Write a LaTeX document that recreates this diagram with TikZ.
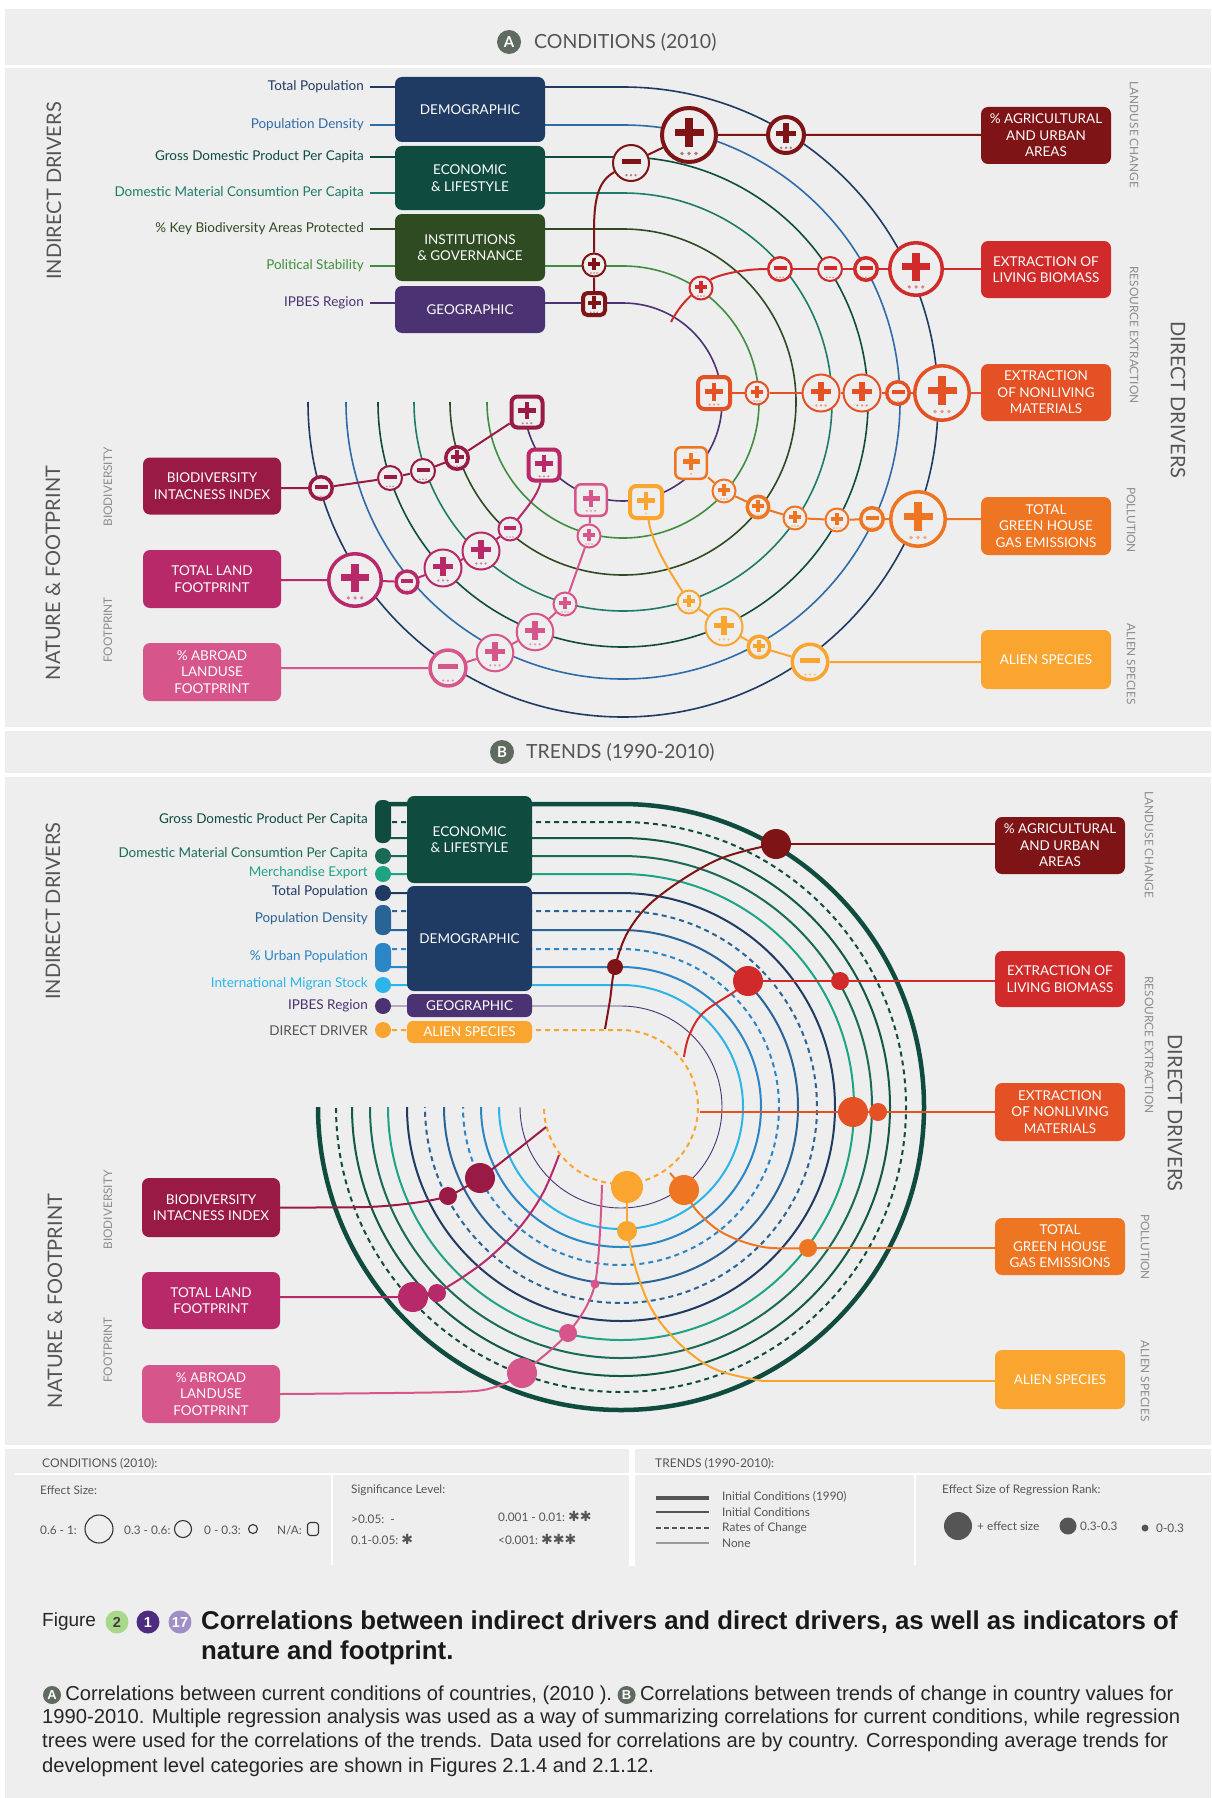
\documentclass[tikz,border=0pt]{standalone}
\usepackage{fontspec}
\setmainfont{Lato}
\newfontfamily\capfont{Liberation Sans}
\newfontfamily\dejavu{DejaVu Sans}
\usetikzlibrary{calc}
\pgfdeclarelayer{bg}
\pgfdeclarelayer{mid}
\pgfsetlayers{bg,mid,main}
\definecolor{panelbg}{HTML}{EEEEEE}
\definecolor{gtext}{HTML}{555555}
\definecolor{ltext}{HTML}{8C8C8C}
\definecolor{navy}{HTML}{1F3A63}
\definecolor{blueA}{HTML}{2E6BA8}
\definecolor{dkteal}{HTML}{0F4C3F}
\definecolor{tealA}{HTML}{1E7B67}
\definecolor{kbaC}{HTML}{2F4A22}
\definecolor{instC}{HTML}{2E4B21}
\definecolor{psC}{HTML}{3E8E3E}
\definecolor{purp}{HTML}{4B3272}
\definecolor{agric}{HTML}{7F1416}
\definecolor{biom}{HTML}{D12A2A}
\definecolor{nonl}{HTML}{E35125}
\definecolor{ghg}{HTML}{EE7522}
\definecolor{alien}{HTML}{F9A530}
\definecolor{bii}{HTML}{991A44}
\definecolor{land}{HTML}{B72968}
\definecolor{abroad}{HTML}{D6558A}
\definecolor{dkteal2}{HTML}{125848}
\definecolor{tealB}{HTML}{1B6A58}
\definecolor{merch}{HTML}{1FA385}
\definecolor{pdB}{HTML}{2A6396}
\definecolor{urban}{HTML}{2C85C5}
\definecolor{sky}{HTML}{2BB5E8}
\definecolor{badgeG}{HTML}{5E6B5E}
\definecolor{figG}{HTML}{A8D88A}
\definecolor{figP}{HTML}{4B2C7F}
\definecolor{figL}{HTML}{9E8FC6}

% #1 name, #2 x, #3 y, #4 r, #5 color, #6 p/m, #7 lw, #8 c/s, #9 ndots
\newcommand{\sgn}[9]{%
\if#8c
 \node[circle,draw=#5,fill=panelbg,line width=#7,minimum size={2*#4-#7},inner sep=0pt] (#1) at (#2,#3) {};
\else
 \node[rectangle,rounded corners={0.35*#4},draw=#5,fill=panelbg,line width=#7,minimum size={2*#4-#7},inner sep=0pt] (#1) at (#2,#3) {};
\fi
\fill[#5] ($(#1)+(-0.5*#4,-0.21*#4)$) rectangle ($(#1)+(0.5*#4,0.05*#4)$);
\if#6p \fill[#5] ($(#1)+(-0.13*#4,-0.58*#4)$) rectangle ($(#1)+(0.13*#4,0.42*#4)$);\fi
\ifnum#9=3
 \foreach \dx in {-0.24,0,0.24} {\fill[#5!55!panelbg] ($(#1)+(\dx*#4,0.64*#4)$) circle[radius={max(0.065*#4,0.8)}];}
\else
 \fill[#5!55!panelbg] ($(#1)+(0,0.64*#4)$) circle[radius={max(0.065*#4,0.8)}];
\fi
}

\begin{document}
\begin{tikzpicture}[x=1pt,y=-1pt,
  ibox/.style={rounded corners=7, text=white, align=center, inner sep=0pt, font=\fontsize{13.5}{16.5}\selectfont},
  lab/.style={anchor=east, inner sep=0pt, font=\fontsize{13.5}{16}\selectfont},
  side/.style={font=\fontsize{20}{24}\selectfont, text=gtext, inner sep=0pt},
  sub/.style={font=\fontsize{11.8}{13}\selectfont, text=ltext, inner sep=0pt},
  arcA/.style={line width=1.6pt},
  chainA/.style={line width=2pt},
  chainB/.style={line width=2pt},
  bsol/.style={line width=2pt},
  bthick/.style={line width=4.5pt},
  bdash/.style={line width=2pt, dash pattern=on 5pt off 4pt},
  bdot/.style={circle, inner sep=0pt},
  pillmk/.style={rounded corners=7, minimum width=16, inner sep=0pt},
  mkc/.style={circle, minimum size=16, inner sep=0pt},
  leg/.style={font=\fontsize{11.8}{13}\selectfont, text=gtext, anchor=west, inner sep=0pt},
  body/.style={font=\capfont\fontsize{20.2}{24}\selectfont, text=black!85, anchor=west, inner sep=0pt, text height=14, text depth=4},
  badge/.style={circle, fill=badgeG, minimum size=18, inner sep=0pt, text=white, font=\capfont\bfseries\fontsize{13}{13}\selectfont},
  fbadge/.style={circle, minimum size=23, inner sep=0pt, font=\capfont\bfseries\fontsize{14.5}{14.5}\selectfont},
]
\useasboundingbox (0,0) rectangle (1211,1798);

% ---------- panels ----------
\begin{pgfonlayer}{bg}
\fill[white] (0,0) rectangle (1211,1798);
\fill[panelbg] (5,9) rectangle (1211,65);
\fill[panelbg] (5,68) rectangle (1211,727);
\fill[panelbg] (5,731) rectangle (1211,773);
\fill[panelbg] (5,777) rectangle (1211,1445);
\fill[panelbg] (5,1449) rectangle (1211,1798);
\fill[white] (15,1473) rectangle (629,1475);
\fill[white] (635,1473) rectangle (1211,1475);
\fill[white] (629,1449) rectangle (635,1566);
\draw[white, line width=1.5pt] (332,1475) -- (332,1565);
\draw[white, line width=1.5pt] (915,1475) -- (915,1565);
\end{pgfonlayer}

% ---------- headers ----------
\node[circle, fill=badgeG, minimum size=24, inner sep=0pt, text=white, font=\bfseries\fontsize{15}{15}\selectfont] (hbA) at (509,42) {A};
\node[anchor=west, text=gtext, font=\fontsize{19.5}{21}\selectfont, inner sep=0pt] (hA) at (534,42) {CONDITIONS (2010)};
\node[circle, fill=badgeG, minimum size=24, inner sep=0pt, text=white, font=\bfseries\fontsize{15}{15}\selectfont] (hbB) at (502,752) {B};
\node[anchor=west, text=gtext, font=\fontsize{19.5}{21}\selectfont, inner sep=0pt] (hB) at (526,752) {TRENDS (1990-2010)};

% ================= PANEL A =================
\node[side, rotate=90] (sA1) at (54,191) {INDIRECT DRIVERS};
\node[side, rotate=90] (sA2) at (53,573) {NATURE \& FOOTPRINT};
\node[sub, rotate=90] (sA3) at (108,487) {BIODIVERSITY};
\node[sub, rotate=90] (sA4) at (108,630) {FOOTPRINT};
\node[side, rotate=-90] (sA5) at (1178,400) {DIRECT DRIVERS};
\node[sub, rotate=-90] (sA6) at (1134,135) {LANDUSE CHANGE};
\node[sub, rotate=-90] (sA7) at (1134,335) {RESOURCE EXTRACTION};
\node[sub, rotate=-90] (sA8) at (1131,520) {POLLUTION};
\node[sub, rotate=-90] (sA9) at (1131,664) {ALIEN SPECIES};

\node[lab, text=navy] (lA1) at (364,87) {Total Population};
\node[lab, text=blueA] (lA2) at (364,125) {Population Density};
\node[lab, text=dkteal] (lA3) at (364,157) {Gross Domestic Product Per Capita};
\node[lab, text=tealA] (lA4) at (364,193) {Domestic Material Consumtion Per Capita};
\node[lab, text=kbaC] (lA5) at (364,229) {\% Key Biodiversity Areas Protected};
\node[lab, text=psC] (lA6) at (364,266) {Political Stability};
\node[lab, text=purp] (lA7) at (364,303) {IPBES Region};

\node[ibox, fill=navy, minimum width=150, minimum height=65] (demA) at (470,109.5) {DEMOGRAPHIC};
\node[ibox, fill=dkteal, minimum width=150, minimum height=64] (ecoA) at (470,178) {ECONOMIC\\\& LIFESTYLE};
\node[ibox, fill=instC, minimum width=150, minimum height=67] (insA) at (470,247.5) {INSTITUTIONS\\\& GOVERNANCE};
\node[ibox, fill=purp, minimum width=150, minimum height=47] (geoA) at (470,309.5) {GEOGRAPHIC};

\node[ibox, fill=agric, minimum width=130, minimum height=57] (agA) at (1046,135.5) {\%~AGRICULTURAL\\AND URBAN\\AREAS};
\node[ibox, fill=biom, minimum width=130, minimum height=57] (biA) at (1046,269.5) {EXTRACTION OF\\LIVING BIOMASS};
\node[ibox, fill=nonl, minimum width=130, minimum height=57] (nlA) at (1046,392.5) {EXTRACTION\\OF NONLIVING\\MATERIALS};
\node[ibox, fill=ghg, minimum width=130, minimum height=58] (ghA) at (1046,526) {TOTAL\\GREEN HOUSE\\GAS EMISSIONS};
\node[ibox, fill=alien, minimum width=130, minimum height=59] (alA) at (1046,659.5) {ALIEN SPECIES};

\node[ibox, fill=bii, minimum width=138, minimum height=57] (biiA) at (212,486) {BIODIVERSITY\\INTACNESS INDEX};
\node[ibox, fill=land, minimum width=138, minimum height=58] (landA) at (212,579) {TOTAL LAND\\FOOTPRINT};
\node[ibox, fill=abroad, minimum width=138, minimum height=58] (abA) at (212,672) {\%~ABROAD\\LANDUSE\\FOOTPRINT};

% sign nodes
\sgn{a1}{786}{135}{20}{agric}{p}{4}{c}{3}
\sgn{a2}{689}{135}{29}{agric}{p}{4}{c}{3}
\sgn{a3}{631}{163}{19}{agric}{m}{2}{c}{3}
\sgn{a4}{594}{265}{12.5}{agric}{p}{2}{c}{3}
\sgn{a5}{594}{304}{13}{agric}{p}{4}{s}{3}

\sgn{b1}{916}{269}{28}{biom}{p}{3.5}{c}{3}
\sgn{b2}{866}{269}{13}{biom}{m}{3.5}{c}{3}
\sgn{b3}{830}{269}{13}{biom}{m}{2}{c}{3}
\sgn{b4}{780}{269}{13}{biom}{m}{2.5}{c}{3}
\sgn{b5}{701}{288}{12.5}{biom}{p}{2}{c}{3}

\sgn{c1}{942}{393}{29}{nonl}{p}{3.5}{c}{3}
\sgn{c2}{898}{393}{13}{nonl}{m}{3.5}{c}{3}
\sgn{c3}{862}{393}{19.5}{nonl}{p}{2}{c}{3}
\sgn{c4}{821}{393}{19.5}{nonl}{p}{2}{c}{3}
\sgn{c5}{757}{393}{12.5}{nonl}{p}{2}{c}{3}
\sgn{c6}{714}{393}{18}{nonl}{p}{4}{s}{3}

\sgn{g1}{918}{519}{29}{ghg}{p}{3.5}{c}{3}
\sgn{g2}{872}{519}{13}{ghg}{m}{3.5}{c}{3}
\sgn{g3}{837}{520}{12.5}{ghg}{p}{2}{c}{3}
\sgn{g4}{795}{518}{12.5}{ghg}{p}{2}{c}{3}
\sgn{g5}{758}{507}{12.5}{ghg}{p}{3.5}{c}{3}
\sgn{g6}{724}{491}{12.5}{ghg}{p}{2}{c}{3}
\sgn{g7}{691}{463}{17}{ghg}{p}{2.5}{s}{1}

\sgn{h1}{810}{662}{19.5}{alien}{m}{3.5}{c}{3}
\sgn{h2}{759}{647}{12.5}{alien}{p}{3.5}{c}{3}
\sgn{h3}{724}{627}{19.5}{alien}{p}{2}{c}{3}
\sgn{h4}{689}{602}{12.5}{alien}{p}{2}{c}{3}
\sgn{h5}{646}{502}{18}{alien}{p}{4}{s}{1}

\sgn{i1}{321}{488}{13}{bii}{m}{3.5}{c}{3}
\sgn{i2}{390}{478}{13}{bii}{m}{2}{c}{3}
\sgn{i3}{423}{471}{13}{bii}{m}{2}{c}{3}
\sgn{i4}{457}{458}{13}{bii}{p}{3.5}{c}{3}
\sgn{i5}{527}{412}{17.5}{bii}{p}{4}{s}{3}

\sgn{j1}{355}{580}{28}{land}{p}{3.5}{c}{3}
\sgn{j2}{407}{582}{12.7}{land}{m}{3.5}{c}{3}
\sgn{j3}{443}{568}{19.5}{land}{p}{2}{c}{3}
\sgn{j4}{481}{551}{19.5}{land}{p}{2}{c}{3}
\sgn{j5}{510}{529}{12.5}{land}{m}{2}{c}{3}
\sgn{j6}{544}{465}{17.5}{land}{p}{4}{s}{3}

\sgn{k1}{448}{668}{19.7}{abroad}{m}{3.5}{c}{3}
\sgn{k2}{495}{653}{19.3}{abroad}{p}{2}{c}{3}
\sgn{k3}{535}{632}{19.3}{abroad}{p}{2}{c}{3}
\sgn{k4}{565}{604}{12.5}{abroad}{p}{2}{c}{3}
\sgn{k5}{589}{536}{12.5}{abroad}{p}{2}{c}{3}
\sgn{k6}{591}{500}{17}{abroad}{p}{2.5}{s}{3}

\coordinate (bE) at (671,322);

\begin{pgfonlayer}{mid}
\foreach \yy/\cc in {87/navy,125/blueA,157/dkteal,193/tealA,229/kbaC,266/psC} {
  \pgfmathsetmacro\rr{402-\yy}
  \draw[\cc, arcA] (370,\yy) -- (623,\yy) arc[start angle=-90,end angle=180,radius=\rr];
}
\draw[purp, arcA] (370,303) -- (623,303) arc[start angle=-90,end angle=174,radius=99];

\draw[agric,chainA] (agA.west|-a1) -- (a1) -- (a2) -- (a3);
\draw[agric,chainA] (a3) .. controls (600,180) and (594,195) .. (594,230) -- (a4) -- (a5);
\draw[biom,chainA] (biA.west|-b1) -- (b1) -- (b2) -- (b3) -- (b4);
\draw[biom,chainA] (b4) .. controls (740,269) and (715,276) .. (b5);
\draw[biom,chainA] (b5) .. controls (688,298) and (678,308) .. (bE);
\draw[nonl,chainA] (nlA.west|-c1) -- (c1) -- (c2) -- (c3) -- (c4) -- (c5) -- (c6);
\draw[ghg,chainA] (ghA.west|-g1) -- (g1) -- (g2) -- (g3) -- (g4) -- (g5) -- (g6) -- (g7);
\draw[alien,chainA] (alA.west|-h1) -- (h1) -- (h2) -- (h3) -- (h4);
\draw[alien,chainA] (h4) .. controls (672,575) and (652,545) .. (h5);
\draw[bii,chainA] (biiA.east|-i1) -- (i1) -- (i2) -- (i3) -- (i4) -- (i5);
\draw[land,chainA] (landA.east|-j1) -- (j1) -- (j2) -- (j3) -- (j4) -- (j5);
\draw[land,chainA] (j5) .. controls (525,510) and (538,495) .. (j6);
\draw[abroad,chainA] (abA.east|-k1) -- (k1) -- (k2) -- (k3) -- (k4) -- (k5) -- (k6);
\end{pgfonlayer}

% ================= PANEL B =================
\node[side, rotate=90] (sB1) at (53,911) {INDIRECT DRIVERS};
\node[side, rotate=90] (sB2) at (55,1301) {NATURE \& FOOTPRINT};
\node[sub, rotate=90] (sB3) at (108,1210) {BIODIVERSITY};
\node[sub, rotate=90] (sB4) at (108,1350) {FOOTPRINT};
\node[side, rotate=-90] (sB5) at (1175,1113) {DIRECT DRIVERS};
\node[sub, rotate=-90] (sB6) at (1149,845) {LANDUSE CHANGE};
\node[sub, rotate=-90] (sB7) at (1149,1045) {RESOURCE EXTRACTION};
\node[sub, rotate=-90] (sB8) at (1145,1247) {POLLUTION};
\node[sub, rotate=-90] (sB9) at (1145,1381) {ALIEN SPECIES};

\node[lab, text=dkteal] (lB1) at (368,820) {Gross Domestic Product Per Capita};
\node[lab, text=tealB] (lB2) at (368,854) {Domestic Material Consumtion Per Capita};
\node[lab, text=merch] (lB3) at (368,873) {Merchandise Export};
\node[lab, text=navy] (lB4) at (368,892) {Total Population};
\node[lab, text=pdB] (lB5) at (368,919) {Population Density};
\node[lab, text=urban] (lB6) at (368,957) {\% Urban Population};
\node[lab, text=sky] (lB7) at (368,984) {International Migran Stock};
\node[lab, text=purp] (lB8) at (368,1006) {IPBES Region};
\node[lab, text=gtext] (lB9) at (368,1031) {DIRECT DRIVER};

\node[pillmk, fill=dkteal, minimum height=43] (mk1) at (383,821.5) {};
\node[mkc, fill=tealB] (mk2) at (383,856) {};
\node[mkc, fill=merch] (mk3) at (383,874) {};
\node[mkc, fill=navy] (mk4) at (383,893) {};
\node[pillmk, fill=pdB, minimum height=30] (mk5) at (383,920) {};
\node[pillmk, fill=urban, minimum height=29] (mk6) at (383,957.5) {};
\node[mkc, fill=sky] (mk7) at (383,985) {};
\node[mkc, fill=purp] (mk8) at (383,1006) {};
\node[mkc, fill=alien] (mk9) at (383,1030) {};

\node[ibox, fill=dkteal, minimum width=125, minimum height=87] (ecB) at (469.5,839.5) {ECONOMIC\\\& LIFESTYLE};
\node[ibox, fill=navy, minimum width=125, minimum height=105] (deB) at (469.5,938.5) {DEMOGRAPHIC};
\node[ibox, fill=purp, minimum width=125, minimum height=23, rounded corners=6] (geB) at (469.5,1005.5) {GEOGRAPHIC};
\node[ibox, fill=alien, minimum width=125, minimum height=22, rounded corners=6] (asB) at (469.5,1032) {ALIEN SPECIES};

\node[ibox, fill=agric, minimum width=130, minimum height=57] (agB) at (1060,845.5) {\%~AGRICULTURAL\\AND URBAN\\AREAS};
\node[ibox, fill=biom, minimum width=130, minimum height=56] (biB) at (1060,979) {EXTRACTION OF\\LIVING BIOMASS};
\node[ibox, fill=nonl, minimum width=130, minimum height=58] (nlB) at (1060,1112) {EXTRACTION\\OF NONLIVING\\MATERIALS};
\node[ibox, fill=ghg, minimum width=130, minimum height=57] (ghB) at (1060,1246.5) {TOTAL\\GREEN HOUSE\\GAS EMISSIONS};
\node[ibox, fill=alien, minimum width=130, minimum height=59] (alB) at (1060,1379.5) {ALIEN SPECIES};

\node[ibox, fill=bii, minimum width=138, minimum height=59] (biiB) at (211,1207.5) {BIODIVERSITY\\INTACNESS INDEX};
\node[ibox, fill=land, minimum width=138, minimum height=57] (landB) at (211,1300.5) {TOTAL LAND\\FOOTPRINT};
\node[ibox, fill=abroad, minimum width=138, minimum height=58] (abB) at (211,1394) {\%~ABROAD\\LANDUSE\\FOOTPRINT};

\node[bdot, fill=agric, minimum size=30] (p1) at (776,844) {};
\node[bdot, fill=agric, minimum size=16] (p2) at (615,967) {};
\node[bdot, fill=biom, minimum size=18] (q1) at (840,981) {};
\node[bdot, fill=biom, minimum size=30] (q2) at (748,981) {};
\node[bdot, fill=nonl, minimum size=18] (s1) at (878,1112) {};
\node[bdot, fill=nonl, minimum size=30] (s2) at (853,1112) {};
\node[bdot, fill=ghg, minimum size=18] (t1) at (808,1248) {};
\node[bdot, fill=ghg, minimum size=30] (t2) at (684,1190) {};
\node[bdot, fill=alien, minimum size=20] (u1) at (627,1231) {};
\node[bdot, fill=alien, minimum size=32] (u2) at (627,1187) {};
\node[bdot, fill=bii, minimum size=18] (v1) at (448,1196) {};
\node[bdot, fill=bii, minimum size=30] (v2) at (480,1178) {};
\node[bdot, fill=land, minimum size=30] (w1) at (413,1297) {};
\node[bdot, fill=land, minimum size=18] (w2) at (437,1293) {};
\node[bdot, fill=abroad, minimum size=30] (x1) at (522,1373) {};
\node[bdot, fill=abroad, minimum size=18] (x2) at (568,1333) {};
\node[bdot, fill=abroad, minimum size=9] (x3) at (595,1284) {};
\coordinate (pE) at (605,1029);
\coordinate (qE) at (684,1057);
\coordinate (sE) at (700,1112);
\coordinate (tE) at (670,1173);
\coordinate (vE) at (546,1127);
\coordinate (wE) at (559,1155);
\coordinate (xE) at (602,1185);
\coordinate (uA) at (763,1381);

\begin{pgfonlayer}{mid}
\draw[dkteal, bthick] (383,804) -- (621,804) arc[start angle=-90,end angle=180,radius=303];
\draw[dkteal, bdash] (383,822) -- (621,822) arc[start angle=-90,end angle=180,radius=285];
\draw[dkteal2, bsol] (383,838) -- (621,838) arc[start angle=-90,end angle=180,radius=269];
\draw[tealB, bsol] (383,856) -- (621,856) arc[start angle=-90,end angle=180,radius=251];
\draw[merch, bsol] (383,874) -- (621,874) arc[start angle=-90,end angle=180,radius=233];
\draw[navy, bsol] (383,893) -- (621,893) arc[start angle=-90,end angle=180,radius=214];
\draw[pdB, bdash] (383,911) -- (621,911) arc[start angle=-90,end angle=180,radius=196];
\draw[pdB, bsol] (383,930) -- (621,930) arc[start angle=-90,end angle=180,radius=177];
\draw[urban, bdash] (383,949) -- (621,949) arc[start angle=-90,end angle=180,radius=158];
\draw[urban, bsol] (383,967) -- (621,967) arc[start angle=-90,end angle=180,radius=140];
\draw[sky, bsol] (383,985) -- (621,985) arc[start angle=-90,end angle=180,radius=122];
\draw[purp, line width=0.9pt] (383,1006) -- (621,1006) arc[start angle=-90,end angle=180,radius=101];
\draw[alien, bdash] (383,1030) -- (621,1030) arc[start angle=-90,end angle=180,radius=77];

\draw[agric,chainB] (agB.west|-p1) -- (p1);
\draw[agric,chainB] plot[smooth,tension=0.6] coordinates {(p1) (717,860) (658,897) (629,930) (p2) (610,1000) (pE)};
\draw[biom,chainB] (biB.west|-q1) -- (q1) -- (q2);
\draw[biom,chainB] plot[smooth,tension=0.6] coordinates {(q2) (734,992) (703,1013) (689,1036) (qE)};
\draw[nonl,chainB] (nlB.west|-s1) -- (s1) -- (s2) -- (sE);
\draw[ghg,chainB] (ghB.west|-t1) -- (t1);
\draw[ghg,chainB] plot[smooth,tension=0.6] coordinates {(t1) (763,1247) (723,1233) (697,1211) (t2) (tE)};
\draw[alien,chainB] (alB.west|-uA) -- (uA);
\draw[alien,chainB] plot[smooth,tension=0.6] coordinates {(uA) (717,1370) (683,1347) (654,1313) (637,1273) (u1)};
\draw[alien,chainB] (u1) -- (u2);
\draw[bii,chainB] plot[smooth,tension=0.5] coordinates {(biiB.east) (367,1207) (413,1203) (v1) (v2) (517,1150) (vE)};
\draw[land,chainB] (landB.east|-w1) -- (w1) -- (w2);
\draw[land,chainB] plot[smooth,tension=0.6] coordinates {(w2) (463,1277) (490,1257) (520,1227) (543,1193) (wE)};
\draw[abroad,chainB] plot[smooth,tension=0.5] coordinates {(abB.east) (455,1392) (495,1387) (x1) (x2) (x3) (xE)};
\end{pgfonlayer}

% ================= LEGEND =================
\node[leg, font=\fontsize{12}{13}\selectfont] (lgA) at (42,1464) {CONDITIONS (2010):};
\node[leg, font=\fontsize{12}{13}\selectfont] (lgB) at (655,1464) {TRENDS (1990-2010):};
\node[leg] (lg1) at (40,1490) {Effect Size:};
\node[leg] (lg2) at (40,1530) {0.6 - 1:};
\node[circle, draw=black!80, line width=1.1pt, minimum size=28, inner sep=0pt] (lc1) at (99,1529) {};
\node[leg] (lg3) at (124,1530) {0.3 - 0.6:};
\node[circle, draw=black!80, line width=1.1pt, minimum size=17, inner sep=0pt] (lc2) at (183,1529) {};
\node[leg] (lg4) at (204,1530) {0 - 0.3:};
\node[circle, draw=black!80, line width=1.1pt, minimum size=9, inner sep=0pt] (lc3) at (253,1529) {};
\node[leg] (lg5) at (277,1530) {N/A:};
\node[rectangle, rounded corners=3, draw=black!80, line width=1.1pt, minimum width=11, minimum height=13, inner sep=0pt] (lc4) at (313,1529) {};
\node[leg] (lg6) at (351,1490) {Significance Level:};
\node[leg] (lg7) at (351,1519) {>0.05:~~-};
\node[leg] (lg8) at (351,1539) {0.1-0.05:~{\dejavu\fontsize{14}{14}\selectfont ✱}};
\node[leg] (lg9) at (498,1516) {0.001 - 0.01:~{\dejavu\fontsize{14}{14}\selectfont ✱✱}};
\node[leg] (lg10) at (498,1539) {<0.001:~{\dejavu\fontsize{14}{14}\selectfont ✱✱✱}};
\coordinate (ls1) at (656,1498); \coordinate (le1) at (709,1498);
\coordinate (ls2) at (656,1512); \coordinate (le2) at (709,1512);
\coordinate (ls3) at (656,1528); \coordinate (le3) at (709,1528);
\coordinate (ls4) at (656,1543); \coordinate (le4) at (709,1543);
\draw[gtext, line width=4pt] (ls1) -- (le1);
\draw[gtext, line width=2pt] (ls2) -- (le2);
\draw[gtext, line width=2pt, dash pattern=on 5pt off 3pt] (ls3) -- (le3);
\draw[black!40, line width=1.5pt] (ls4) -- (le4);
\node[leg] (lt1) at (722,1497) {Initial Conditions (1990)};
\node[leg] (lt2) at (722,1512) {Initial Conditions};
\node[leg] (lt3) at (722,1528) {Rates of Change};
\node[leg] (lt4) at (722,1543) {None};
\node[leg] (lt5) at (942,1490) {Effect Size of Regression Rank:};
\node[circle, fill=gtext, minimum size=28, inner sep=0pt] (ld1) at (958,1526) {};
\node[leg] (lt6) at (977,1526) {+ effect size};
\node[circle, fill=gtext, minimum size=17, inner sep=0pt] (ld2) at (1068,1526) {};
\node[leg] (lt7) at (1080,1526) {0.3-0.3};
\node[circle, fill=gtext, minimum size=7, inner sep=0pt] (ld3) at (1145,1528) {};
\node[leg] (lt8) at (1156,1528) {0-0.3};

% ================= CAPTION =================
\node[anchor=west, inner sep=0pt, font=\capfont\fontsize{19}{21}\selectfont, text=black!85] (fig) at (42,1622) {Figure};
\node[fbadge, fill=figG, text=black!75] (fb1) at (117,1622) {2};
\node[fbadge, fill=figP, text=white] (fb2) at (148,1622) {1};
\node[fbadge, fill=figL, text=white] (fb3) at (180,1622) {17};
\node[anchor=west, inner sep=0pt, font=\capfont\bfseries\fontsize{25.8}{30}\selectfont, text=black!90] (ct1) at (201,1622) {Correlations between indirect drivers and direct drivers, as well as indicators of};
\node[anchor=west, inner sep=0pt, font=\capfont\bfseries\fontsize{25.8}{30}\selectfont, text=black!90] (ct2) at (201,1653) {nature and footprint.};

\node[badge] (cbA) at (52,1695) {A};
\node[body] (cl1) at ([xshift=4]cbA.east) {Correlations between current conditions of countries, (2010 ).};
\node[badge, anchor=west] (cbB) at ([xshift=5]cl1.east) {B};
\node[body] (cl2) at ([xshift=4]cbB.east) {Correlations between trends of change in country values for};
\node[body] (cl3) at (42,1718) {1990-2010. Multiple regression analysis was used as a way of summarizing correlations for current conditions, while regression};
\node[body] (cl4) at (42,1742) {trees were used for the correlations of the trends. Data used for correlations are by country. Corresponding average trends for};
\node[body] (cl5) at (42,1767) {development level categories are shown in Figures 2.1.4 and 2.1.12.};
\end{tikzpicture}
\end{document}
